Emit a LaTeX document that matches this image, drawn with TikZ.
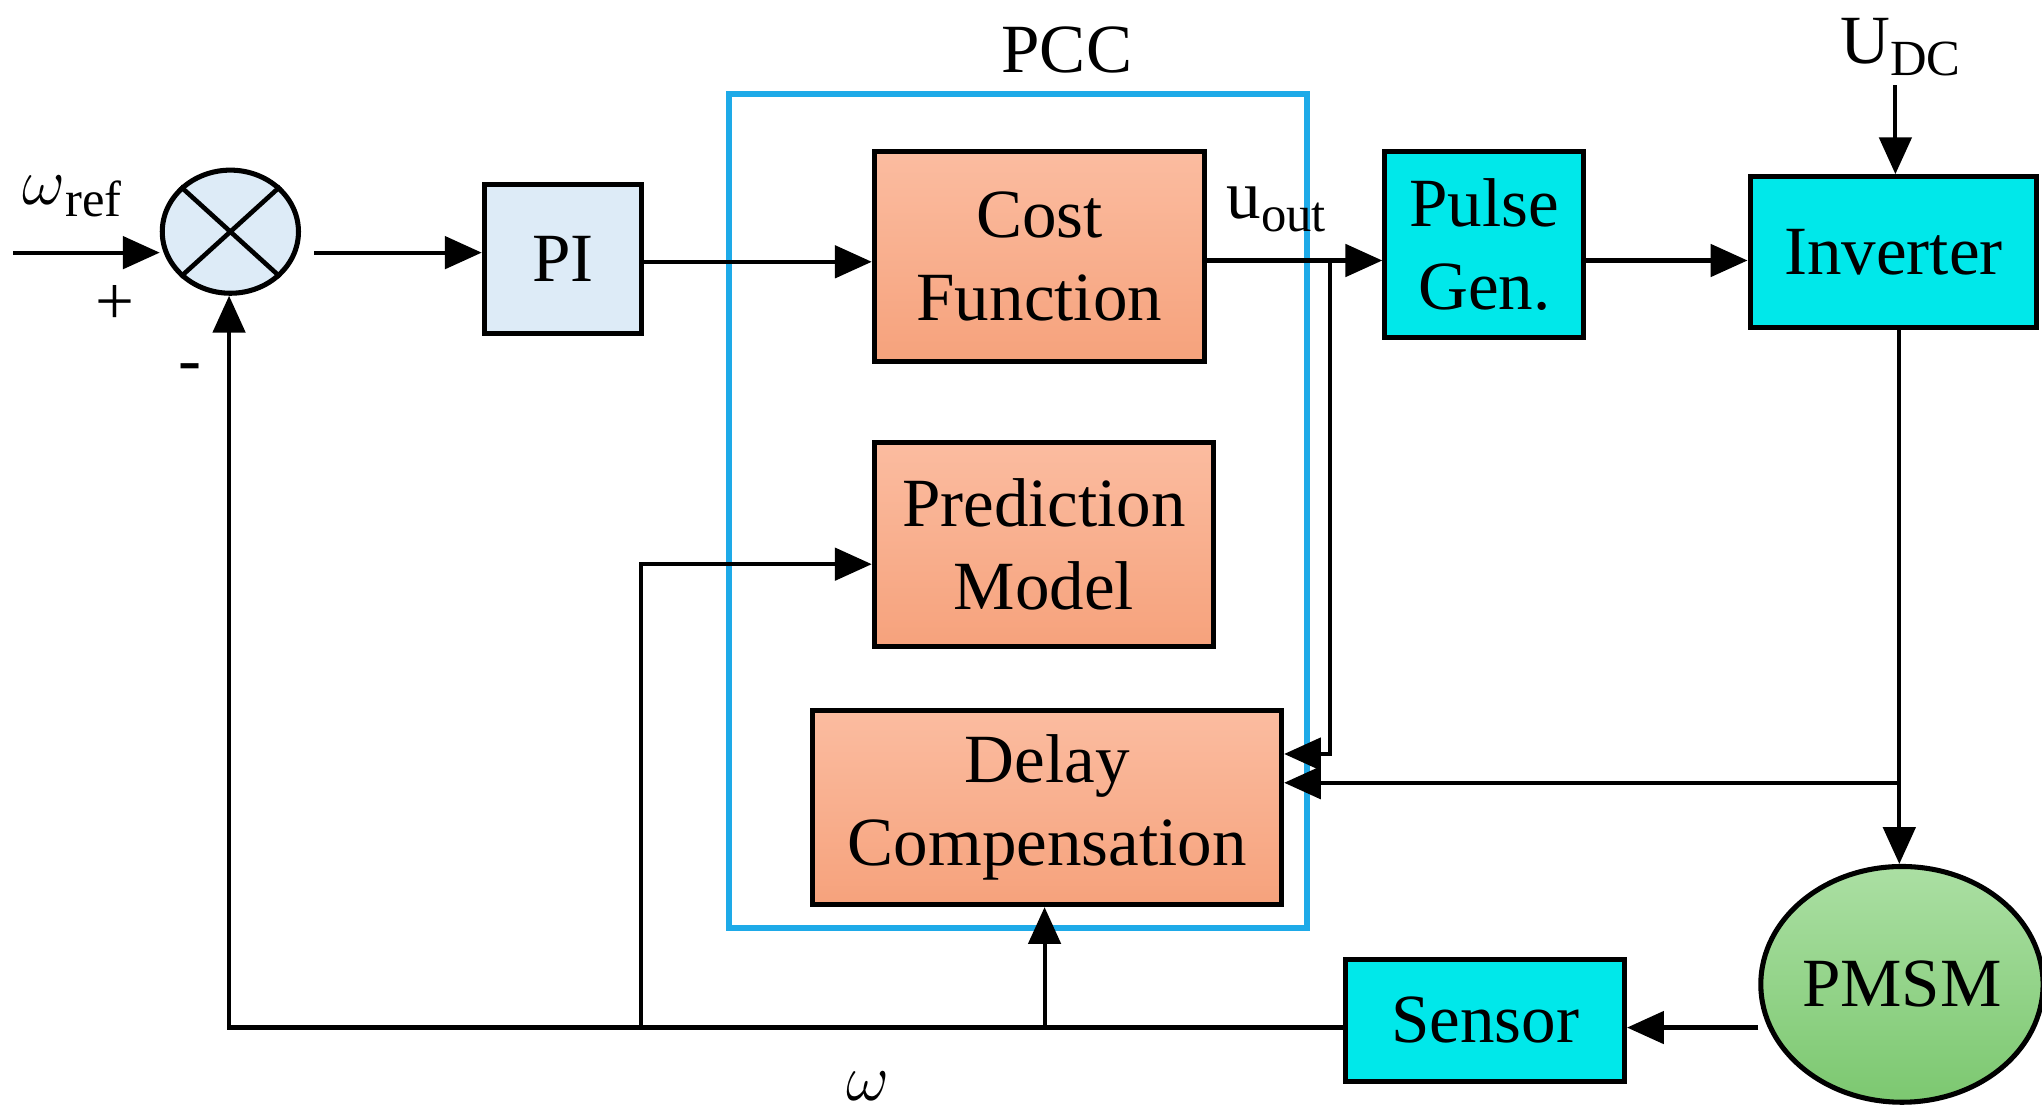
\documentclass[tikz,border=0pt]{standalone}
\usepackage{fontspec}
\setmainfont{Liberation Serif}
\usetikzlibrary{arrows.meta,shapes.geometric}
\begin{document}
\begin{tikzpicture}[x=0.01cm,y=-0.01cm,
 line width=0.9pt,
 arr/.style={-{Triangle[length=8pt,width=7pt]}},
 blk/.style={draw,line width=1.1pt,inner sep=0pt,align=center,font=\fontsize{15}{18}\selectfont},
 orng/.style={blk,top color=#1FBBA1,bottom color=#1F5A47F},
]
\definecolor{lb}{HTML}{DDEBF7}
\definecolor{cy}{HTML}{00E8EA}
\definecolor{pc}{HTML}{1EAAE8}
\definecolor{o1}{HTML}{FBBCA0}
\definecolor{o2}{HTML}{F6A27C}
\definecolor{g1}{HTML}{ABDFA3}
\definecolor{g2}{HTML}{7CC870}
\tikzset{or/.style={blk,top color=o1,bottom color=o2}}
\useasboundingbox (0,0) rectangle (1560,848);
% PCC frame
\node[draw=pc,line width=1.3pt,minimum width=4.41cm,minimum height=6.37cm,inner sep=0pt] (pcc) at (777.5,390.5) {};
\node[font=\fontsize{15}{18}\selectfont] (pccl) at (815,38) {PCC};
% sum
\node[draw,ellipse,fill=lb,line width=1.1pt,minimum width=1.04cm,minimum height=0.94cm,inner sep=0pt] (sum) at (176,177) {};
\draw[line width=1pt] (sum.north west)--(sum.south east) (sum.north east)--(sum.south west);
\node[blk,fill=lb,minimum width=1.2cm,minimum height=1.14cm] (pi) at (430,198) {PI};
\node[or,minimum width=2.52cm,minimum height=1.6cm] (cost) at (794,196) {Cost\\Function};
\node[or,minimum width=2.59cm,minimum height=1.56cm] (pred) at (797.5,416) {Prediction\\Model};
\node[or,minimum width=3.58cm,minimum height=1.48cm] (delay) at (800,617) {Delay\\Compensation};
\node[blk,fill=cy,minimum width=1.52cm,minimum height=1.42cm] (pulse) at (1134,187) {Pulse\\Gen.};
\node[blk,fill=cy,minimum width=2.19cm,minimum height=1.15cm] (inv) at (1446.5,192.5) {Inverter};
\node[blk,fill=cy,minimum width=2.13cm,minimum height=0.93cm] (sens) at (1134.5,779.5) {Sensor};
\node[blk,ellipse,top color=g1,bottom color=g2,minimum width=2.1cm,minimum height=1.8cm] (pmsm) at (1453,752) {PMSM};
% labels
\node[font=\fontsize{15}{18}\selectfont] (wref) at (55,150) {$\omega$\raisebox{-0.4ex}{\fontsize{11}{12}\selectfont ref}};
\node[font=\fontsize{15}{18}\selectfont] (plus) at (88,233) {+};
\node[font=\fontsize{15}{18}\selectfont] (minus) at (145,285) {-};
\node[font=\fontsize{15}{18}\selectfont] (uout) at (975,160) {u\raisebox{-0.4ex}{\fontsize{11}{12}\selectfont out}};
\node[font=\fontsize{15}{18}\selectfont] (udc) at (1452,36) {U\raisebox{-0.4ex}{\fontsize{11}{12}\selectfont DC}};
\node[font=\fontsize{15}{18}\selectfont] (wl) at (663,830) {$\omega$};
% coordinates
\coordinate (in) at (10,193);
\coordinate (dcs) at (1448,65);
\coordinate (b1) at (1016,199);
\coordinate (b2) at (1451,598);
\coordinate (fb) at (175,785);
\coordinate (fp) at (490,785);
\coordinate (fd) at (798,785);
% connectors
\draw[arr] (in) -- (in -| sum.west);
\draw[arr] (240,193) -- (pi.west |- 0,193);
\draw[arr] (pi.east |- 0,200) -- (cost.west |- 0,200);
\draw[arr] (cost.east |- b1) -- (pulse.west |- b1);
\draw[arr] (b1) -- (1016,576) -- (delay.east |- 0,576);
\draw[arr] (pulse.east |- 0,199) -- (inv.west |- 0,199);
\draw[arr] (dcs) -- (inv.north -| dcs);
\draw[arr] (inv.south -| b2) -- (pmsm.north -| b2);
\draw[arr] (b2) -- (delay.east |- b2);
\draw[arr] (pmsm.west |- 0,785) -- (sens.east |- 0,785);
\draw[arr] (sens.west |- fb) -- (fb) -- (sum.south -| fb);
\draw[arr] (fp) -- (490,431) -- (pred.west |- 0,431);
\draw[arr] (fd) -- (delay.south -| fd);
\end{tikzpicture}
\end{document}
